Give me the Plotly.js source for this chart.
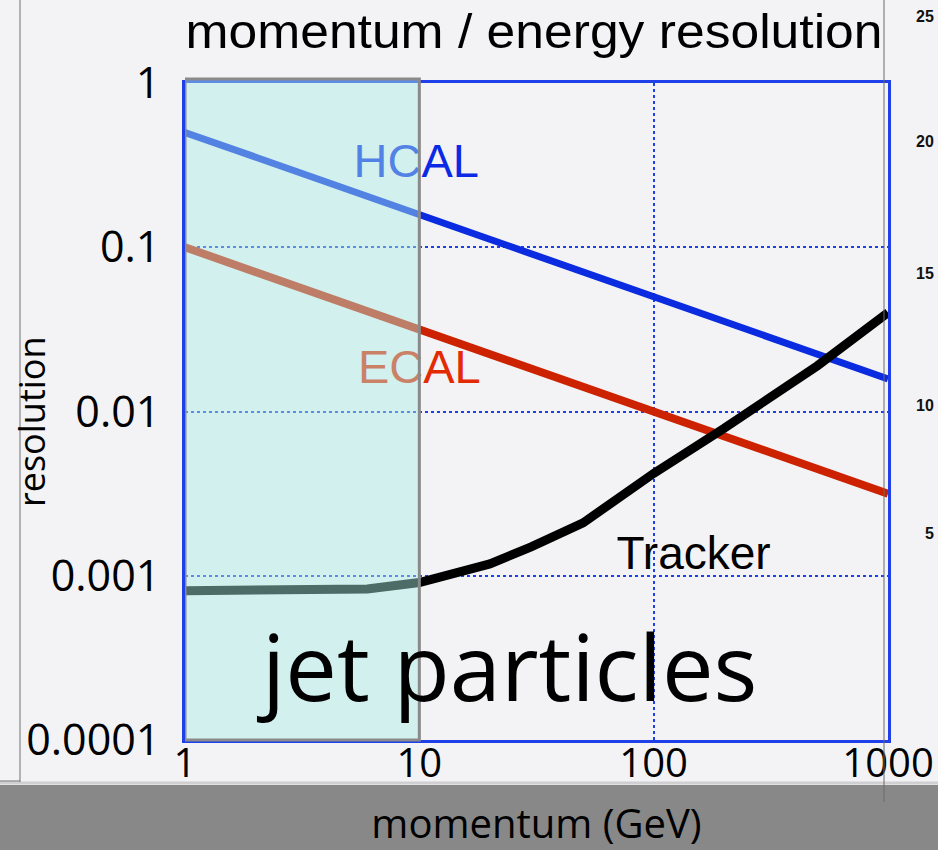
<!DOCTYPE html>
<html>
<head>
<meta charset="utf-8">
<script src="https://cdn.plot.ly/plotly-3.0.1.min.js"></script>
<style>
  html, body { margin: 0; padding: 0; background: #f3f3f5; }
  #chart { width: 938px; height: 850px; }
</style>
</head>
<body>
<div id="chart"></div>
<script>
// Energy / momentum points (GeV) and resolutions of each detector
const energyGeV = [1, 10, 100, 1000];
const hcalRes = [0.5, 0.158, 0.05, 0.0158];
const ecalRes = [0.1, 0.0316, 0.01, 0.00316];
const trackerGeV = [1, 6, 10, 20, 30, 50, 100, 200, 500, 1000];
const trackerRes = [0.00081, 0.00083, 0.00091, 0.00118, 0.0015, 0.0021, 0.0042, 0.0079, 0.019, 0.040];

// Axis ticks
const xTickVals = [1, 10, 100, 1000];
const xTickText = ['1', '10', '100', '1000'];
const yTickVals = [0.0001, 0.001, 0.01, 0.1, 1];
const yTickText = ['0.0001', '0.001', '0.01', '0.1', '1'];

// Curve labels placed next to each curve
const labelNames = ['HCAL', 'ECAL', 'Tracker'];
const labelX = [9.7, 10, 148];
const labelY = [0.316, 0.0175, 0.00129];

// Momentum band typical of jet particles
const jetBand = [1, 10];

// Scale numbers of the neighbouring panel
const sideScale = ['25', '20', '15', '10', '5'];

const blue = '#1f3fe8';
const colors = { HCAL: '#0a2be0', ECAL: '#cc2200', Tracker: '#000000' };
const labelColors = { HCAL: '#0a2ae6', ECAL: '#e42a00', Tracker: '#000000' };
const labelSizes = { HCAL: 47, ECAL: 47, Tracker: 46 };

const traces = [
  { x: energyGeV, y: hcalRes, mode: 'lines', name: 'HCAL',
    line: { color: colors.HCAL, width: 7 } },
  { x: energyGeV, y: ecalRes, mode: 'lines', name: 'ECAL',
    line: { color: colors.ECAL, width: 8 } },
  { x: trackerGeV, y: trackerRes, mode: 'lines', name: 'Tracker',
    line: { color: colors.Tracker, width: 9 } }
];

labelNames.forEach((n, i) => {
  traces.push({
    x: [labelX[i]], y: [labelY[i]], mode: 'text', text: [n],
    textposition: 'middle center', cliponaxis: false,
    textfont: { family: 'Liberation Sans, Arial, sans-serif', size: labelSizes[n], color: labelColors[n] },
    hoverinfo: 'skip'
  });
});

const px = v => (v - 185) / 703;   // page x -> paper x
const py = v => (740 - v) / 657;   // page y -> paper y

const sideY = [16, 141, 273, 405, 533];

const annotations = [
  { text: 'jet particles', xref: 'paper', yref: 'paper', x: px(506), y: py(665),
    showarrow: false, xanchor: 'center', yanchor: 'middle',
    font: { family: 'Open Sans, sans-serif', size: 92, color: '#000' } },
  { text: 'resolution', xref: 'paper', yref: 'paper', x: px(31), y: py(422),
    showarrow: false, textangle: -90, xanchor: 'center', yanchor: 'middle',
    font: { family: 'Open Sans, sans-serif', size: 36, color: '#000' } }
];
sideScale.forEach((t, i) => {
  annotations.push({ text: '<b>' + t + '</b>', xref: 'paper', yref: 'paper',
    x: px(936), y: py(sideY[i]), showarrow: false, xanchor: 'right', yanchor: 'middle',
    font: { family: 'Liberation Sans, Arial, sans-serif', size: 16, color: '#111' } });
});

const shapes = [
  // dark strip at the bottom of the page
  { type: 'rect', xref: 'paper', yref: 'paper', layer: 'below',
    x0: px(-5), x1: px(945), y0: py(785), y1: py(860),
    fillcolor: '#888888', line: { width: 0 } },
  { type: 'line', xref: 'paper', yref: 'paper', layer: 'below',
    x0: px(-5), x1: px(945), y0: py(783), y1: py(783),
    line: { color: '#d0d0d2', width: 3 } },
  // frame lines of the page
  { type: 'line', xref: 'paper', yref: 'paper', layer: 'below',
    x0: px(20), x1: px(20), y0: py(-5), y1: py(782),
    line: { color: '#707070', width: 1 } },
  { type: 'line', xref: 'paper', yref: 'paper', layer: 'below',
    x0: px(-5), x1: px(20), y0: py(781), y1: py(781),
    line: { color: '#707070', width: 1 } },
  // jet particle band
  { type: 'rect', xref: 'x', yref: 'paper', layer: 'above',
    x0: jetBand[0], x1: jetBand[1], y0: 0, y1: py(79),
    fillcolor: 'rgba(170,238,228,0.45)', line: { color: '#8a8a8a', width: 3 } },
  { type: 'line', xref: 'paper', yref: 'paper', layer: 'above',
    x0: px(884), x1: px(884), y0: py(-5), y1: py(802),
    line: { color: '#6a6a6a', width: 1 } }
];

const layout = {
  width: 938, height: 850,
  margin: { l: 185, r: 50, t: 83, b: 110 },
  paper_bgcolor: '#f3f3f5',
  plot_bgcolor: 'rgba(0,0,0,0)',
  showlegend: false,
  hovermode: false,
  title: {
    text: 'momentum / energy resolution',
    x: 534 / 938, xref: 'container', xanchor: 'center',
    y: 1 - 31 / 850, yref: 'container', yanchor: 'middle',
    font: { family: 'Liberation Sans, Arial, sans-serif', size: 49, color: '#000' }
  },
  xaxis: {
    type: 'log', range: [0, 3],
    tickvals: xTickVals, ticktext: xTickText, ticks: '',
    ticklabelstandoff: -14,
    tickfont: { family: 'Open Sans, sans-serif', size: 40, color: '#000' },
    showgrid: true, gridcolor: blue, gridwidth: 2, griddash: 'dot',
    showline: true, mirror: true, linecolor: blue, linewidth: 3,
    zeroline: false,
    title: { text: 'momentum (GeV)', standoff: 40,
      font: { family: 'Open Sans, sans-serif', size: 40, color: '#000' } }
  },
  yaxis: {
    type: 'log', range: [-4, 0],
    tickvals: yTickVals, ticktext: yTickText, ticks: '',
    ticklabelstandoff: 13,
    tickfont: { family: 'Open Sans, sans-serif', size: 43, color: '#000' },
    showgrid: true, gridcolor: blue, gridwidth: 2, griddash: 'dot',
    showline: true, mirror: true, linecolor: blue, linewidth: 3,
    zeroline: false
  },
  shapes: shapes,
  annotations: annotations
};

Plotly.newPlot('chart', traces, layout, { staticPlot: true, displayModeBar: false }).then(gd => {
  // condensed title: fit the heading to the width of the plot frame
  const t = gd.querySelector('.gtitle');
  if (t) {
    t.setAttribute('textLength', '697');
    t.setAttribute('lengthAdjust', 'spacingAndGlyphs');
  }
});
</script>
</body>
</html>
